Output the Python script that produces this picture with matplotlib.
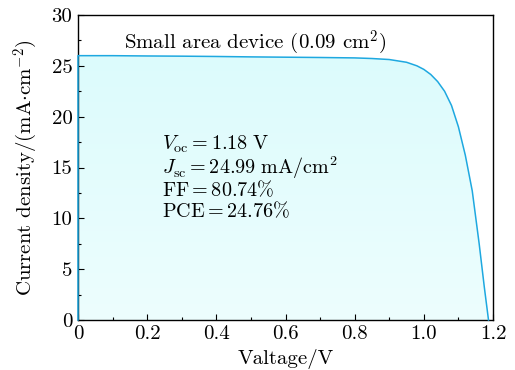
import numpy as np
import matplotlib
matplotlib.use("Agg")
import matplotlib.pyplot as plt
from matplotlib.ticker import MultipleLocator, FuncFormatter
from matplotlib.colors import LinearSegmentedColormap

plt.rcParams['font.family'] = ['cmr10', 'DejaVu Serif']
plt.rcParams['mathtext.fontset'] = 'cm'
plt.rcParams['axes.formatter.use_mathtext'] = True

voltage = [0, 0, 0.1, 0.2, 0.3, 0.4, 0.5, 0.6, 0.7, 0.8, 0.85, 0.9, 0.95, 0.98, 1.0,
           1.02, 1.04, 1.06, 1.08, 1.1, 1.12, 1.14, 1.16, 1.175, 1.187]
current = [0, 26.0, 26.0, 25.97, 25.95, 25.92, 25.88, 25.85, 25.82, 25.78, 25.72, 25.62,
           25.35, 25.0, 24.65, 24.15, 23.45, 22.5, 21.1, 19.0, 16.2, 12.7, 7.5, 3.2, 0]

title_text = "Small area device (0.09 cm$^2$)"
param_lines = [r"$V_{\mathrm{oc}} = 1.18\ \mathrm{V}$",
               r"$J_{\mathrm{sc}} = 24.99\ \mathrm{mA/cm^2}$",
               r"$\mathrm{FF} = 80.74\%$",
               r"$\mathrm{PCE} = 24.76\%$"]

fs = 15
fig = plt.figure(figsize=(5.15, 3.7), dpi=100)
ax = fig.add_axes([78/515, 50/370, 415/515, 305/370])

line_color = '#1ea8e0'
ax.set_xlim(0, 1.2)
ax.set_ylim(0, 30)

# gradient fill under curve
poly = ax.fill(voltage, current, facecolor='none', edgecolor='none')[0]
cmap = LinearSegmentedColormap.from_list('g', ['#edfefe', '#dcfbfc'])
grad = np.linspace(0, 1, 256).reshape(-1, 1)
im = ax.imshow(grad, extent=[0, 1.2, 0, 26.0], origin='lower', cmap=cmap,
               aspect='auto', zorder=1)
im.set_clip_path(poly)
ax.plot(voltage, current, color=line_color, lw=1.1, zorder=3, clip_on=False)

ax.xaxis.set_major_locator(MultipleLocator(0.2))
ax.xaxis.set_minor_locator(MultipleLocator(0.1))
ax.yaxis.set_major_locator(MultipleLocator(5))
ax.yaxis.set_minor_locator(MultipleLocator(2.5))
ax.xaxis.set_major_formatter(FuncFormatter(lambda v, p: "0" if abs(v) < 1e-9 else f"{v:.1f}"))
ax.yaxis.set_major_formatter(FuncFormatter(lambda v, p: f"{int(round(v))}"))
ax.tick_params(which='both', direction='in', top=False, right=False, labelsize=fs)
ax.tick_params(which='major', length=4, width=0.8, pad=4)
ax.tick_params(which='minor', length=2.5, width=0.8)
for s in ax.spines.values():
    s.set_linewidth(1.0)

ax.set_xlabel("Valtage/V", fontsize=fs, labelpad=4)
ax.set_ylabel(r"Current density/(mA$\cdot$cm$^{-2}$)", fontsize=fs, labelpad=8)

ax.text(0.133, 27.3, title_text, fontsize=fs, va='center', ha='left', zorder=4)
ys = [16.75, 14.4, 12.2, 10.1]
for t, y in zip(param_lines, ys):
    ax.text(0.243, y, t, fontsize=14.5, va='baseline', ha='left', zorder=4)

fig.savefig("out.png", dpi=100)
